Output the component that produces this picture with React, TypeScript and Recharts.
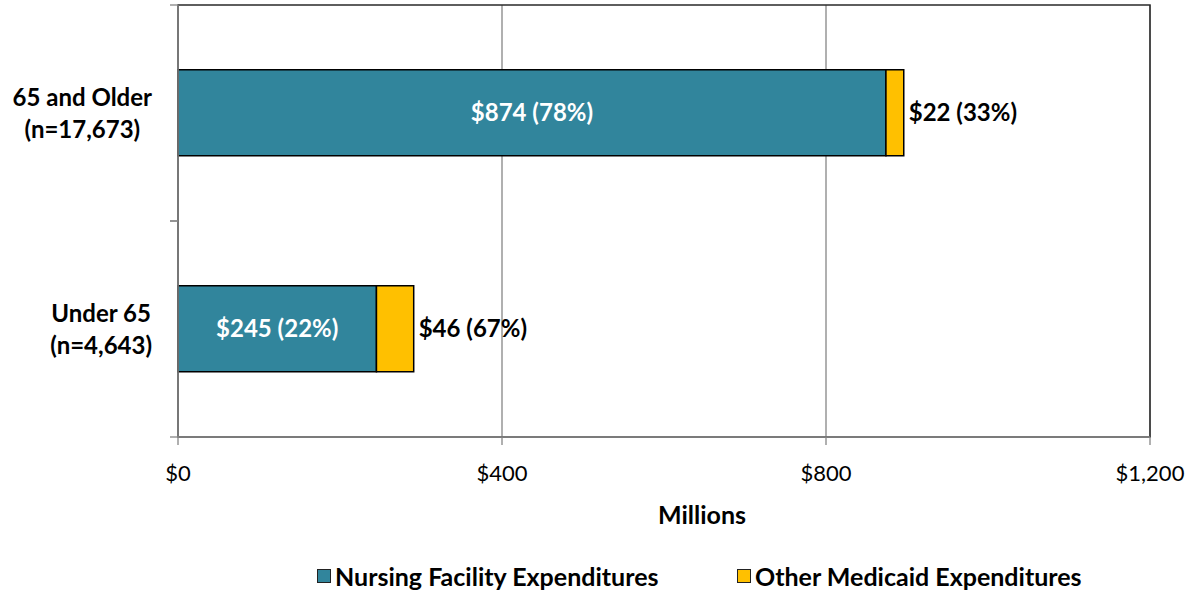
import React from 'react';
import { BarChart, Bar, XAxis, YAxis, CartesianGrid, Legend, LabelList, ReferenceArea, Label } from 'recharts';

const categories: string[][] = [
  ['65 and Older', '(n=17,673)'],
  ['Under 65', '(n=4,643)'],
];
const nursingValues = [874, 245];
const nursingPct = [78, 22];
const otherValues = [22, 46];
const otherPct = [33, 67];
const xTicks = [0, 400, 800, 1200];
const seriesNames = ['Nursing Facility Expenditures', 'Other Medicaid Expenditures'];
const seriesColors = ['#31859C', '#FFC000'];

const data = categories.map((c, i) => ({
  cat: c.join('\n'),
  nursing: nursingValues[i],
  other: otherValues[i],
  nursingLabel: `$${nursingValues[i]} (${nursingPct[i]}%)`,
  otherLabel: `$${otherValues[i]} (${otherPct[i]}%)`,
}));

const FONT = 'Lato, "Open Sans", sans-serif';
const Y_TICK_SIZE = 6;
const Y_TICK_MARGIN = 20;
const CAT_FONT_SIZE = 24;

function measure(text: string, font: string): number {
  const c = document.createElement('canvas').getContext('2d');
  if (!c) return text.length * 10;
  c.font = font;
  return c.measureText(text).width;
}

const YTick = (props: any) => {
  const { x, y, payload, height, visibleTicksCount } = props;
  const lines = String(payload.value).split('\n');
  const maxW = Math.max(...lines.map((l) => measure(l, `bold ${CAT_FONT_SIZE}px Lato`)));
  const cx = x - maxW / 2;
  const plotLeft = x + Y_TICK_SIZE + Y_TICK_MARGIN;
  const half = height / (visibleTicksCount || 2) / 2;
  return (
    <g>
      <line x1={plotLeft - 8} x2={plotLeft} y1={y - half} y2={y - half} stroke="#868686" strokeWidth={1.3} />
      <line x1={plotLeft - 8} x2={plotLeft} y1={y + half} y2={y + half} stroke="#868686" strokeWidth={1.3} />
      <text x={cx} y={y} textAnchor="middle" fontFamily={FONT} fontWeight="bold" fontSize={CAT_FONT_SIZE} fill="#000">
        {lines.map((l, i) => (
          <tspan key={i} x={cx} dy={i === 0 ? -7 : 32}>{l}</tspan>
        ))}
      </text>
    </g>
  );
};

const LegendContent = () => (
  <div style={{ display: 'flex', alignItems: 'center', height: 28, paddingLeft: 317, fontFamily: FONT, fontWeight: 'bold', fontSize: 25, color: '#000', whiteSpace: 'nowrap' }}>
    {seriesNames.map((n, i) => (
      <div key={n} style={{ display: 'flex', alignItems: 'center', width: i === 0 ? 420 : 'auto' }}>
        <span style={{ display: 'inline-block', width: 12, height: 12, background: seriesColors[i], border: '1.5px solid #222', marginRight: 4 }} />
        <span>{n}</span>
      </div>
    ))}
  </div>
);

export default function App() {
  return (
    <div style={{ position: 'absolute', left: 0, top: 0, width: 1187, height: 590, background: '#fff' }}>
      <BarChart
        width={1187}
        height={590}
        data={data}
        layout="vertical"
        margin={{ top: 5, right: 37, left: 0, bottom: 0 }}
        barCategoryGap="30%"
      >
        <ReferenceArea x1={0} x2={1200} fill="none" stroke="#2a2a2a" strokeWidth={1.5} ifOverflow="visible" />
        <CartesianGrid horizontal={false} stroke="#868686" strokeWidth={1.3} />
        <XAxis
          type="number"
          domain={[0, 1200]}
          ticks={xTicks}
          interval={0}
          tickFormatter={(v: number) => `$${v.toLocaleString('en-US')}`}
          height={125}
          tickSize={8}
          tickMargin={20}
          stroke="#868686"
          tickLine={{ stroke: '#868686', strokeWidth: 1.3 }}
          axisLine={{ stroke: '#868686', strokeWidth: 1.5 }}
          tick={{ fill: '#000', fontSize: 22, fontFamily: FONT }}
        >
          <Label
            content={(p: any) => (
              <text
                x={p.viewBox.x + p.viewBox.width / 2 + 38}
                y={p.viewBox.y + 87}
                textAnchor="middle"
                fontFamily={FONT}
                fontWeight="bold"
                fontSize={25}
                fill="#000"
              >
                Millions
              </text>
            )}
          />
        </XAxis>
        <YAxis
          type="category"
          dataKey="cat"
          width={178}
          tickLine={false}
          tickSize={Y_TICK_SIZE}
          tickMargin={Y_TICK_MARGIN}
          axisLine={{ stroke: '#868686', strokeWidth: 1.5 }}
          tick={<YTick />}
        />
        <Legend verticalAlign="bottom" wrapperStyle={{ left: 0, width: 1187 }} content={<LegendContent />} />
        <Bar dataKey="nursing" stackId="a" fill={seriesColors[0]} stroke="#000" strokeWidth={1.5} isAnimationActive={false} name={seriesNames[0]}>
          <LabelList dataKey="nursingLabel" position="center" fill="#fff" fontSize={24} fontWeight="bold" fontFamily={FONT} />
        </Bar>
        <Bar dataKey="other" stackId="a" fill={seriesColors[1]} stroke="#000" strokeWidth={1.5} isAnimationActive={false} name={seriesNames[1]}>
          <LabelList dataKey="otherLabel" position="right" offset={5} fill="#000" fontSize={24} fontWeight="bold" fontFamily={FONT} />
        </Bar>
      </BarChart>
    </div>
  );
}
